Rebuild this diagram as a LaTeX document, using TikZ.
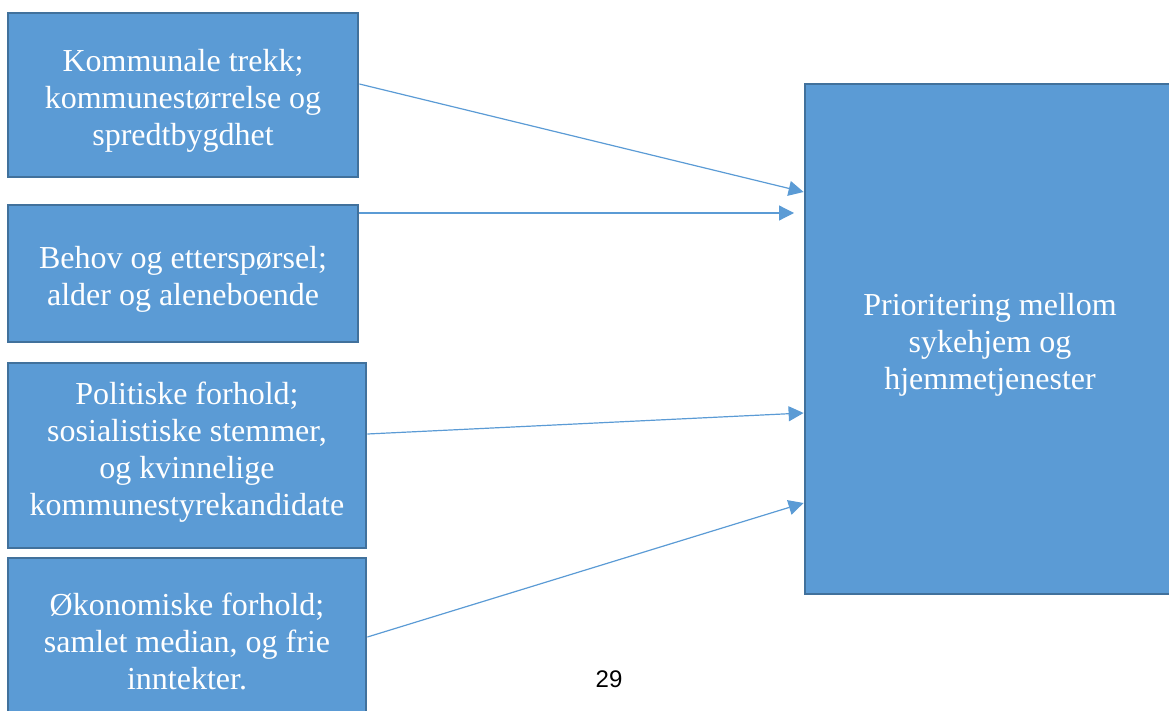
\documentclass[tikz,border=0pt]{standalone}
\usepackage{fontspec}
\setmainfont{Liberation Serif}
\newfontfamily\pgnum{Liberation Sans}
\usetikzlibrary{arrows.meta,calc}
\definecolor{boxfill}{HTML}{5B9BD5}
\definecolor{boxline}{HTML}{41719C}
\newcommand{\boxtxt}[2]{\raisebox{#1}[\height][\depth]{\begin{tabular}{@{}c@{}}#2\end{tabular}}}
\begin{document}
\begin{tikzpicture}[x=1pt,y=-1pt,
  box/.style={draw=boxline, line width=2.8pt, fill=boxfill, text=white, align=center,
    font=\fontsize{32}{37}\selectfont, inner sep=0pt},
  conn/.style={draw=boxfill, line width=1.2pt, -{Triangle[length=15pt,width=15pt]}}]
\useasboundingbox (0,0) rectangle (1169,711);
\clip (0,0) rectangle (1169,711);
\node[box, minimum width=350pt, minimum height=164pt] (b1) at (183,95)
  {\boxtxt{-6pt}{Kommunale trekk;\\kommunestørrelse og\\spredtbygdhet}};
\node[box, minimum width=350pt, minimum height=137pt] (b2) at (183,273.5)
  {\boxtxt{-6pt}{Behov og etterspørsel;\\alder og aleneboende}};
\node[box, minimum width=358pt, minimum height=185pt] (b3) at (187,455.5)
  {\boxtxt{3pt}{Politiske forhold;\\sosialistiske stemmer,\\og kvinnelige\\kommunestyrekandidate}};
\node[box, minimum width=358pt, minimum height=166pt] (b4) at (187,641)
  {\boxtxt{-4pt}{Økonomiske forhold;\\samlet median, og frie\\inntekter.}};
\node[box, minimum width=370pt, minimum height=510pt] (big) at (990,339)
  {\boxtxt{-6pt}{Prioritering mellom\\sykehjem og\\hjemmetjenester}};
\coordinate (e2) at (794,213);
\draw[conn] ($(b1.east)+(0,-11)$) -- ($(big.west)+(0,-147)$);
\draw[conn] ($(b2.east)+(0,-60.5)$) -- (e2);
\draw[conn] ($(b3.east)+(0,-21.5)$) -- ($(big.west)+(0,74)$);
\draw[conn] ($(b4.east)+(0,-4)$) -- ($(big.west)+(0,164)$);
\node[font=\pgnum\fontsize{24}{28}\selectfont, inner sep=0pt] (pg) at (609,679) {29};
\end{tikzpicture}
\end{document}
